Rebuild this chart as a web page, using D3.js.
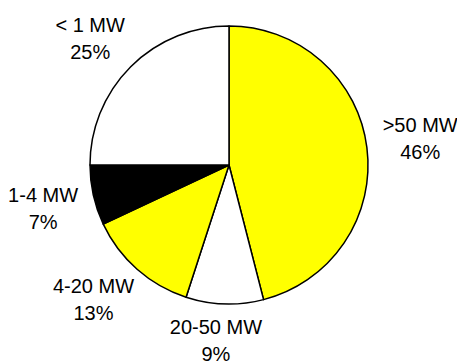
<!DOCTYPE html>
<html>
<head>
<meta charset="utf-8">
<script src="https://cdn.jsdelivr.net/npm/d3@7"></script>
<style>
  html, body { margin: 0; padding: 0; background: #fff; }
  svg { display: block; }
  text { font-family: "Liberation Sans", Arial, sans-serif; font-size: 20px; fill: #000; }
</style>
</head>
<body>
<svg id="chart" width="457" height="364"></svg>
<script>
// Share of capacity by plant size class, drawn clockwise from 12 o'clock
const categories = [">50 MW", "20-50 MW", "4-20 MW", "1-4 MW", "< 1 MW"];
const shares = [46, 9, 13, 7, 25];
const colors = ["#FFFF00", "#FFFFFF", "#FFFF00", "#000000", "#FFFFFF"];

const width = 457, height = 364;
const cx = 229, cy = 165, radius = 139;
const fontSize = 20, lineHeight = 27, labelGap = 16;
const capHeight = 0.716 * fontSize;

const svg = d3.select("#chart");
const g = svg.append("g").attr("transform", `translate(${cx},${cy})`);

const pie = d3.pie().sort(null).value(d => d.value);
const arcs = pie(categories.map((c, i) => ({ name: c, value: shares[i], color: colors[i] })));
const arc = d3.arc().innerRadius(0).outerRadius(radius);

g.selectAll("path.slice")
  .data(arcs)
  .join("path")
  .attr("class", "slice")
  .attr("d", arc)
  .attr("fill", d => d.data.color)
  .attr("stroke", "#000")
  .attr("stroke-width", 1.5)
  .attr("stroke-linejoin", "round");

// Two-line labels set just outside the rim, pushed clear of it by their own box size
const labels = g.selectAll("g.label")
  .data(arcs)
  .join("g")
  .attr("class", "label");

labels.each(function(d) {
  const sel = d3.select(this);
  const t = sel.append("text").attr("text-anchor", "middle");
  t.append("tspan").attr("x", 0).attr("y", 0).text(d.data.name);
  t.append("tspan").attr("x", 0).attr("y", lineHeight).text(d.data.value + "%");
  const hw = t.node().getBBox().width / 2;
  const hh = (capHeight + lineHeight) / 2;
  const mid = (d.startAngle + d.endAngle) / 2;
  const ux = Math.sin(mid), uy = -Math.cos(mid);
  const px = ux * (radius + labelGap) + Math.sign(ux) * hw * Math.sqrt(Math.abs(ux));
  const py = uy * (radius + labelGap) + Math.sign(uy) * hh * Math.sqrt(Math.abs(uy));
  // text origin is the first baseline; the box center sits hh below the cap top
  const baseline = py - hh + capHeight;
  sel.attr("transform", `translate(${px},${baseline})`);
});
</script>
</body>
</html>
